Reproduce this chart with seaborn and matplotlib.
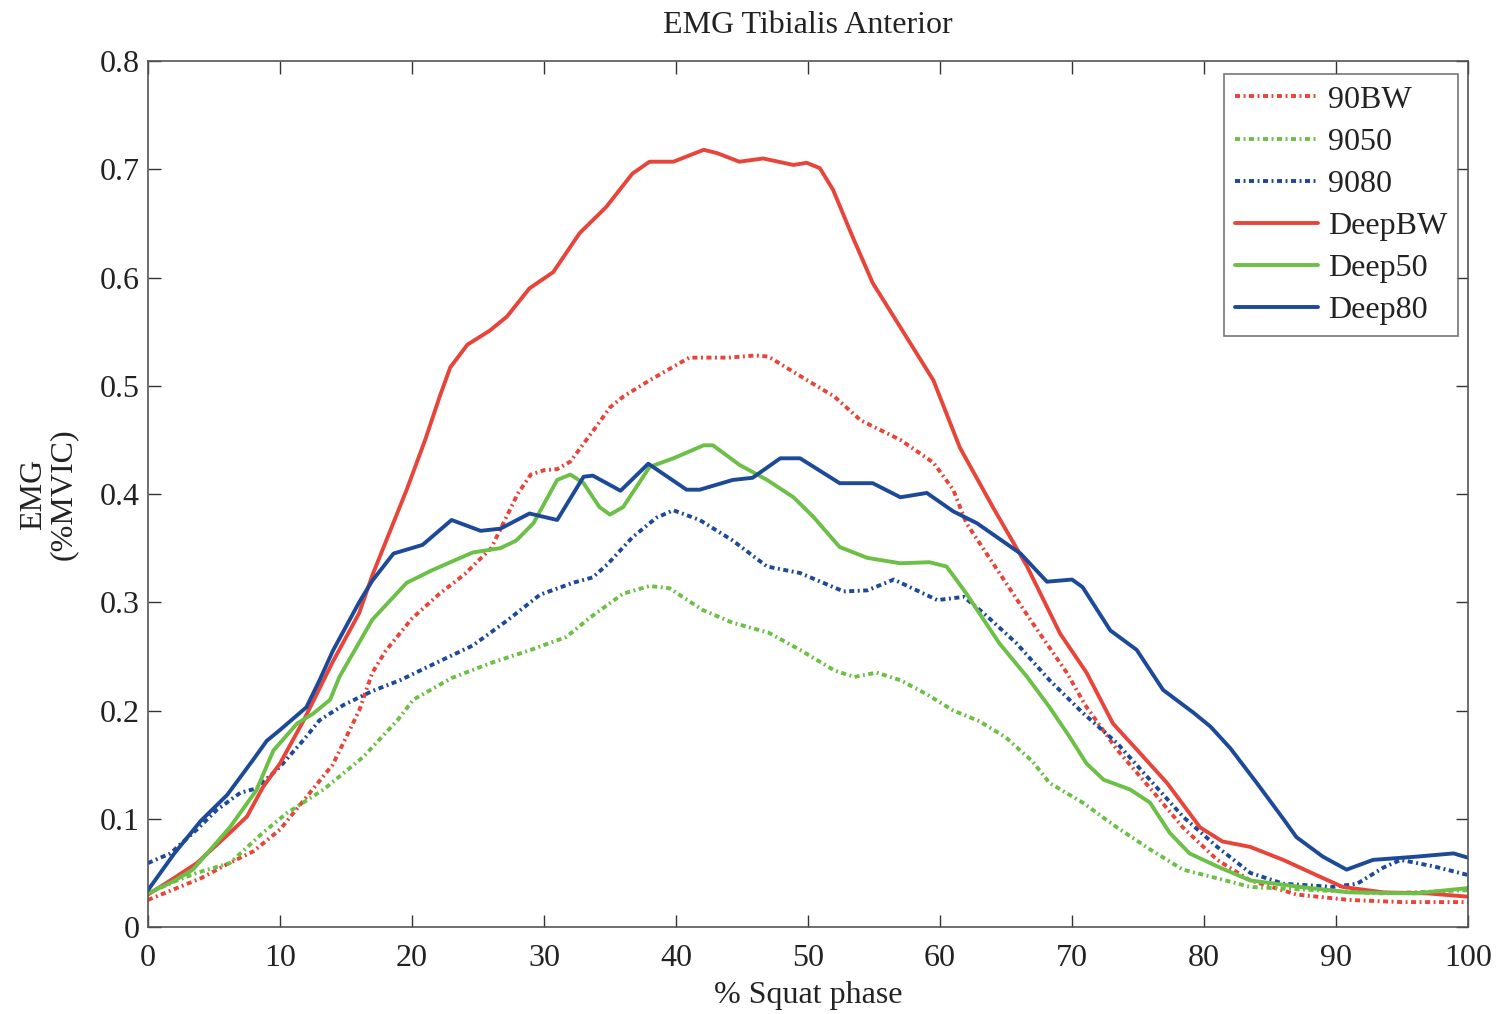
import matplotlib
matplotlib.use("Agg")
import matplotlib.pyplot as plt
import seaborn as sns
import pandas as pd

# ---------------- data ----------------
x_90bw = [0, 2, 4, 6, 8, 10, 12, 14, 16, 17, 18, 20, 22, 24, 26, 27, 28, 29, 30, 31, 32, 34, 35, 36, 38, 41,
          44, 46, 47, 49, 52, 54, 57, 59.5, 61, 62, 64.5, 67, 69.6, 71, 73.4, 76, 78.4, 81, 83.5, 87, 91, 95, 100]
y_90bw = [0.025, 0.035, 0.045, 0.058, 0.07, 0.09, 0.12, 0.15, 0.2, 0.235, 0.255, 0.285, 0.307, 0.326, 0.35, 0.375,
          0.4, 0.418, 0.422, 0.423, 0.43, 0.463, 0.48, 0.49, 0.505, 0.526, 0.526, 0.528, 0.527, 0.512, 0.49, 0.468,
          0.45, 0.429, 0.404, 0.373, 0.327, 0.281, 0.235, 0.205, 0.164, 0.127, 0.092, 0.062, 0.043, 0.03, 0.025,
          0.023, 0.023]

x_9050 = [0, 2, 3.7, 6.2, 8.7, 10.5, 13.3, 16.3, 18.9, 20.1, 23, 26, 29, 31.7, 33.5, 36, 38, 39.5, 42, 44.3, 47,
          49.4, 52, 53.5, 55.2, 57, 59, 61, 63, 65, 67, 68.3, 70.8, 73.4, 76, 78.4, 81, 83.5, 88.5, 93.6, 100]
y_9050 = [0.031, 0.042, 0.05, 0.059, 0.087, 0.105, 0.127, 0.157, 0.191, 0.21, 0.23, 0.244, 0.256, 0.268, 0.286,
          0.308, 0.315, 0.313, 0.293, 0.281, 0.272, 0.256, 0.237, 0.231, 0.235, 0.228, 0.215, 0.2, 0.19, 0.175,
          0.153, 0.133, 0.115, 0.092, 0.071, 0.053, 0.045, 0.037, 0.034, 0.031, 0.034]

x_9080 = [0, 1.7, 3.7, 5.2, 7, 8.2, 10, 11.8, 13, 14.8, 17, 19.1, 22, 24.6, 27.2, 29.7, 32.2, 33.7, 34.8, 36.7,
          38.5, 39.8, 41.8, 44.3, 46.9, 49.4, 52.7, 54.5, 56.5, 59.8, 61.8, 63.3, 65.8, 68.3, 70.8, 73.4, 75.9,
          78.4, 81, 83.5, 86, 89.8, 91.6, 93.6, 94.9, 97.4, 100]
y_9080 = [0.059, 0.068, 0.09, 0.108, 0.124, 0.128, 0.148, 0.173, 0.191, 0.205, 0.218, 0.228, 0.245, 0.26, 0.283,
          0.307, 0.318, 0.323, 0.335, 0.36, 0.378, 0.385, 0.376, 0.357, 0.333, 0.327, 0.31, 0.311, 0.321, 0.302,
          0.305, 0.29, 0.262, 0.228, 0.198, 0.17, 0.136, 0.102, 0.074, 0.05, 0.04, 0.037, 0.04, 0.055, 0.062,
          0.056, 0.048]

x_deepbw = [0, 1.7, 3.7, 6.2, 7.5, 8.7, 10, 11.8, 14, 16, 17, 19.6, 21, 22.1, 22.9, 24.2, 25.9, 27.2, 28.9, 30.7,
            32.7, 34.7, 36.7, 38, 39.8, 42.1, 43.1, 44.8, 46.6, 48.9, 49.9, 50.9, 51.9, 53.4, 54.9, 57, 59.5,
            61.5, 64, 66.6, 69.1, 71.1, 73.1, 74.9, 77.2, 79.7, 81.4, 83.5, 86, 88.5, 90.5, 93.6, 97, 100]
y_deepbw = [0.03, 0.043, 0.059, 0.087, 0.102, 0.129, 0.151, 0.191, 0.245, 0.29, 0.325, 0.404, 0.45, 0.49, 0.517,
            0.538, 0.551, 0.564, 0.59, 0.605, 0.641, 0.665, 0.696, 0.707, 0.707, 0.718, 0.715, 0.707, 0.71,
            0.704, 0.706, 0.701, 0.681, 0.637, 0.595, 0.554, 0.505, 0.443, 0.388, 0.333, 0.271, 0.235, 0.188,
            0.164, 0.133, 0.092, 0.079, 0.074, 0.062, 0.048, 0.037, 0.032, 0.031, 0.028]

x_deep50 = [0, 1.9, 3.4, 6.2, 8.2, 9.5, 11.3, 12.5, 13.8, 14.5, 17, 19.6, 21.6, 24.6, 26.7, 27.9, 29.2, 31, 32,
            33, 34.2, 35, 36, 38, 39.8, 42.1, 42.8, 44.8, 46.9, 48.9, 50.4, 52.4, 54.5, 57, 59.2, 60.5, 62,
            63.3, 64.5, 66.6, 68.3, 69.8, 71.1, 72.4, 74.4, 75.9, 77.4, 78.9, 81, 83.5, 87.3, 91, 96, 100]
y_deep50 = [0.031, 0.042, 0.053, 0.092, 0.126, 0.163, 0.188, 0.197, 0.21, 0.231, 0.284, 0.318, 0.33, 0.346,
            0.35, 0.357, 0.373, 0.413, 0.418, 0.41, 0.388, 0.381, 0.388, 0.425, 0.433, 0.445, 0.445, 0.427,
            0.413, 0.397, 0.379, 0.351, 0.341, 0.336, 0.337, 0.333, 0.308, 0.284, 0.262, 0.231, 0.203, 0.176,
            0.151, 0.136, 0.127, 0.115, 0.087, 0.068, 0.056, 0.043, 0.037, 0.032, 0.031, 0.036]

x_deep80 = [0, 2, 4, 6, 8, 9, 10, 12, 13, 14, 16, 17, 18.6, 20.8, 23, 25.2, 26.7, 28.9, 31, 33, 33.7, 35.8,
            37.9, 40.8, 41.8, 44.3, 45.8, 47.9, 49.4, 52.4, 54.9, 57, 59, 61, 62.8, 66.1, 68.1, 70, 70.8, 72.9,
            74.9, 76.9, 79.2, 80.5, 82, 84, 86, 87, 89, 90.8, 92.8, 96.1, 98.9, 100]
y_deep80 = [0.034, 0.068, 0.098, 0.122, 0.155, 0.172, 0.182, 0.203, 0.228, 0.255, 0.3, 0.32, 0.345, 0.353,
            0.376, 0.366, 0.368, 0.382, 0.376, 0.416, 0.417, 0.403, 0.428, 0.404, 0.404, 0.413, 0.415, 0.433,
            0.433, 0.41, 0.41, 0.397, 0.401, 0.384, 0.373, 0.345, 0.319, 0.321, 0.314, 0.274, 0.256, 0.219,
            0.198, 0.185, 0.165, 0.133, 0.1, 0.083, 0.065, 0.053, 0.062, 0.065, 0.068, 0.064]

labels = ["90BW", "9050", "9080", "DeepBW", "Deep50", "Deep80"]
xs = [x_90bw, x_9050, x_9080, x_deepbw, x_deep50, x_deep80]
ys = [y_90bw, y_9050, y_9080, y_deepbw, y_deep50, y_deep80]

RED = "#E8453A"
GREEN = "#6CBF47"
BLUE = "#1D4A98"
colors = [RED, GREEN, BLUE, RED, GREEN, BLUE]
dotted = (0, (1.3, 0.9, 0.5, 0.9))
styles = [dotted, dotted, dotted, "-", "-", "-"]

x_ticks = [0, 10, 20, 30, 40, 50, 60, 70, 80, 90, 100]
y_ticks = [0, 0.1, 0.2, 0.3, 0.4, 0.5, 0.6, 0.7, 0.8]
y_ticklabels = ["0", "0.1", "0.2", "0.3", "0.4", "0.5", "0.6", "0.7", "0.8"]

# ---------------- plot ----------------
sns.set_style("ticks")
plt.rcParams["font.family"] = ["Liberation Serif", "DejaVu Serif"]
plt.rcParams["xtick.direction"] = "in"
plt.rcParams["ytick.direction"] = "in"

FS = 23

fig = plt.figure(figsize=(15.02, 10.14), dpi=100)
ax = fig.add_axes([0.0985, 0.0858, 0.8789, 0.854])

for xv, yv, lab, c, ls in zip(xs, ys, labels, colors, styles):
    df = pd.DataFrame({"x": xv, "y": yv})
    sns.lineplot(data=df, x="x", y="y", ax=ax, color=c, linestyle=ls, linewidth=2.8,
                 label=lab, estimator=None, sort=False)

ax.set_xlim(0, 100)
ax.set_ylim(0, 0.8)
ax.set_xticks(x_ticks)
ax.set_yticks(y_ticks)
ax.set_yticklabels(y_ticklabels)
ax.tick_params(axis="both", which="both", direction="in", length=9, width=1.0,
               top=True, right=True, labelsize=FS, colors="#333333")
ax.tick_params(axis="x", pad=12)
ax.tick_params(axis="y", pad=6)
for lbl in ax.get_xticklabels() + ax.get_yticklabels():
    lbl.set_color("#222222")
for sp in ax.spines.values():
    sp.set_visible(True)
    sp.set_color("#555555")
    sp.set_linewidth(1.2)

ax.set_xlabel("% Squat phase", fontsize=FS, color="#222222", labelpad=6)
ax.set_ylabel("EMG\n(%MVIC)", fontsize=FS, color="#222222", labelpad=16, linespacing=1.0)
ax.set_title("EMG Tibialis Anterior", fontsize=FS, color="#222222", pad=20)

leg = ax.legend(loc="upper right", bbox_to_anchor=(0.9925, 0.985), fontsize=FS, frameon=True,
                fancybox=False, edgecolor="#555555", handlelength=2.6, handletextpad=0.3,
                labelspacing=0.4, borderpad=0.35, borderaxespad=0.0)
leg.get_frame().set_linewidth(1.2)
for t in leg.get_texts():
    t.set_color("#222222")

fig.savefig("out.png", dpi=100)
